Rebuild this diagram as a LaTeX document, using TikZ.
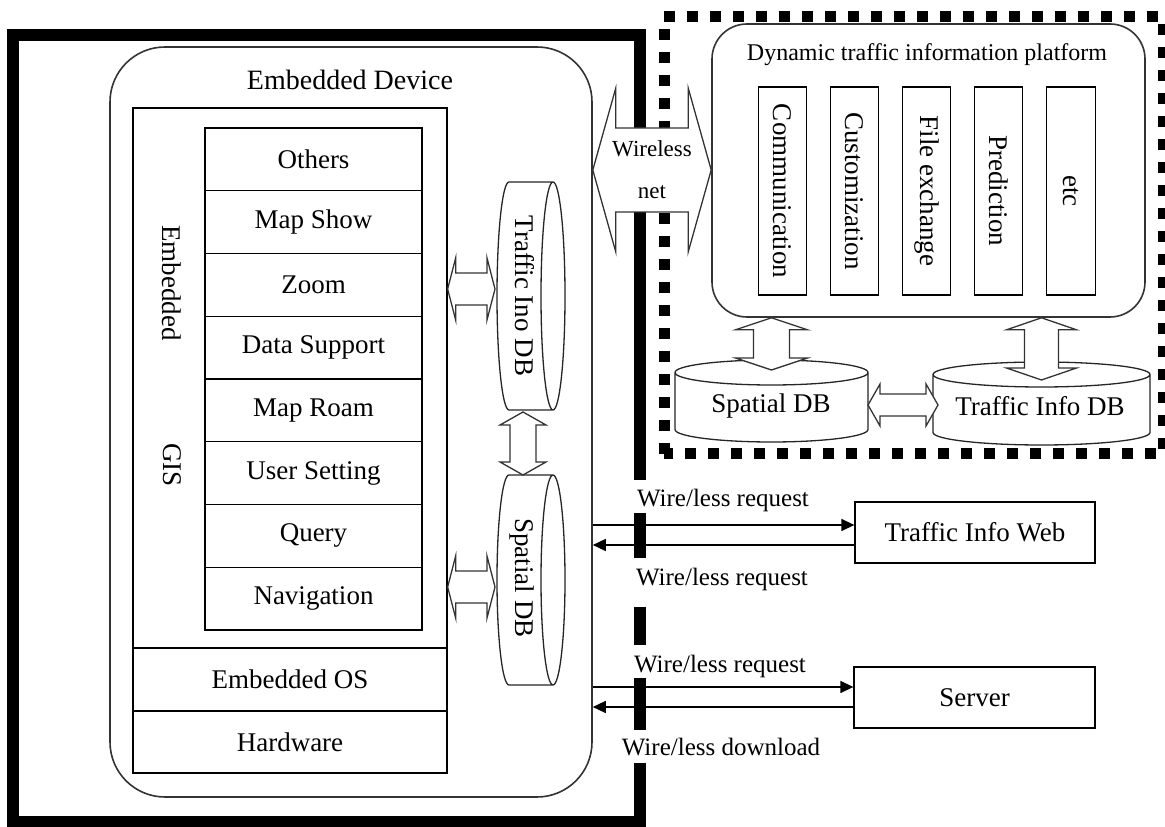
\documentclass[tikz,border=0pt]{standalone}
\usepackage{fontspec}
\setmainfont{Liberation Serif}
\usetikzlibrary{calc,arrows.meta}
% horizontal double block arrow: from #1 to #2 (y of #1), shaft half #3, head half #4, head length #5
\newcommand\hdbl[5]{\draw[blk] let \p1=(#1), \p2=(#2) in (\x1,\y1) -- (\x1+#5,\y1+#4) -- (\x1+#5,\y1+#3) -- (\x2-#5,\y1+#3) -- (\x2-#5,\y1+#4) -- (\x2,\y1) -- (\x2-#5,\y1-#4) -- (\x2-#5,\y1-#3) -- (\x1+#5,\y1-#3) -- (\x1+#5,\y1-#4) -- cycle;}
% vertical double block arrow: from #1 (top) to #2 (bottom), x of #1
\newcommand\vdbl[5]{\draw[blk] let \p1=(#1), \p2=(#2) in (\x1,\y1) -- (\x1+#4,\y1-#5) -- (\x1+#3,\y1-#5) -- (\x1+#3,\y2+#5) -- (\x1+#4,\y2+#5) -- (\x1,\y2) -- (\x1-#4,\y2+#5) -- (\x1-#3,\y2+#5) -- (\x1-#3,\y1-#5) -- (\x1-#4,\y1-#5) -- cycle;}
% cylinder lying on its side, full ellipse on the right
\newcommand\cylH[2]{\draw[cyl] let \p1=(#1.south west), \p2=(#1.north east), \n1={(\y2-\y1)/2} in
  (\x1+#2,\y2) -- (\x2-#2,\y2)
  (\x1+#2,\y1) -- (\x2-#2,\y1)
  (\x2-#2,\y1+\n1) ellipse [x radius=#2, y radius=\n1]
  (\x1+#2,\y2) arc [start angle=90, end angle=270, x radius=#2, y radius=\n1];}
% upright cylinder, full ellipse on top
\newcommand\cylV[2]{\draw[cyl] let \p1=(#1.south west), \p2=(#1.north east), \n1={(\x2-\x1)/2} in
  (\x1,\y2-#2) -- (\x1,\y1+#2)
  (\x2,\y2-#2) -- (\x2,\y1+#2)
  (\x1+\n1,\y2-#2) ellipse [x radius=\n1, y radius=#2]
  (\x1,\y1+#2) arc [start angle=180, end angle=360, x radius=\n1, y radius=#2];}
\tikzset{
 boxn/.style={draw, line width=1.3pt, inner sep=0pt, font=\fontsize{27}{30}\selectfont},
 rbox/.style={draw=black!80, line width=1.6pt, inner sep=0pt},
 lbl/.style={inner sep=0pt, font=\fontsize{27}{30}\selectfont},
 slbl/.style={inner sep=0pt, font=\fontsize{25}{28}\selectfont, anchor=base},
 cyl/.style={draw=black!85, line width=1.3pt},
 blk/.style={draw=black!80, line width=1.3pt, fill=white, line join=miter},
 req/.style={line width=1.4pt, -{Triangle[length=13pt,width=12pt]}},
 hole/.style={draw=none, inner sep=0pt, outer sep=0pt, rectangle},
 frame/.style={line width=12pt},
 dframe/.style={line width=11pt, dash pattern=on 11pt off 12pt},
}
\begin{document}
\begin{tikzpicture}[x=1pt,y=1pt]
\useasboundingbox (0,0) rectangle (1165,827);
\clip (0,0) rectangle (1165,827);
\fill[white] (0,0) rectangle (1165,827);
% frames
\draw[frame, line join=miter] (640,64) -- (640,5) -- (13,5) -- (13,792) -- (640,792) -- (640,347);
\draw[dframe] (664,373) rectangle (1163,810);
% embedded device
\node[rbox, rounded corners=55pt, minimum width=482pt, minimum height=750pt] (dev) at (351,405) {};
\node[lbl, font=\fontsize{28}{30}\selectfont] (devt) at (350,747) {Embedded Device};
\node[boxn, minimum width=314pt, minimum height=540pt] (gis) at (290,449) {};
\node[lbl, rotate=-90] (gis1) at (172,544) {Embedded};
\node[lbl, rotate=-90] (gis2) at (172,362) {GIS};
\node[boxn, minimum width=217pt, minimum height=62.75pt] (r1) at (313.5,667.6) {Others};
\node[boxn, minimum width=217pt, minimum height=62.75pt] (r2) at (313.5,604.9) {Map Show};
\node[boxn, minimum width=217pt, minimum height=62.75pt] (r3) at (313.5,542.1) {Zoom};
\node[boxn, minimum width=217pt, minimum height=62.75pt] (r4) at (313.5,479.4) {Data Support};
\node[boxn, minimum width=217pt, minimum height=62.75pt] (r5) at (313.5,416.6) {Map Roam};
\node[boxn, minimum width=217pt, minimum height=62.75pt] (r6) at (313.5,353.9) {User Setting};
\node[boxn, minimum width=217pt, minimum height=62.75pt] (r7) at (313.5,291.1) {Query};
\node[boxn, minimum width=217pt, minimum height=62.75pt] (r8) at (313.5,228.4) {Navigation};
\node[boxn, minimum width=314pt, minimum height=63pt] (os) at (290,147.5) {Embedded OS};
\node[boxn, minimum width=314pt, minimum height=62pt] (hw) at (290,85) {Hardware};
% device databases
\node[hole, minimum width=68pt, minimum height=228pt] (tdb) at (531,531) {};
\cylH{tdb}{12pt}
\node[lbl, rotate=-90] (tdbt) at ([xshift=-6pt]tdb.center) {Traffic Ino DB};
\node[hole, minimum width=68pt, minimum height=210pt] (sdb) at (531,247) {};
\cylH{sdb}{12pt}
\node[lbl, rotate=-90] (sdbt) at ([xshift=-9pt,yshift=2pt]sdb.center) {Spatial DB};
\hdbl{$(gis.east |- tdb.center)+(0,7)$}{$(tdb.west)+(-2,0)$}{16pt}{31pt}{8pt}
\hdbl{$(gis.east |- sdb.center)+(0,-7)$}{$(sdb.west)+(-2,0)$}{16pt}{31pt}{8pt}
\vdbl{$(tdb.south)+(-8,-2)$}{sdb.north}{13pt}{23pt}{13pt}
% platform
\node[rbox, rounded corners=35pt, minimum width=433pt, minimum height=293pt] (plat) at (928.5,656.5) {};
\node[lbl, font=\fontsize{24}{28}\selectfont] (platt) at (927,772) {Dynamic traffic information platform};
\node[boxn, rotate=-90, minimum width=208pt, minimum height=48.5pt] (c1) at (782.5,636) {Communication};
\node[boxn, rotate=-90, minimum width=208pt, minimum height=48.5pt] (c2) at (854.5,636) {Customization};
\node[boxn, rotate=-90, minimum width=208pt, minimum height=48.5pt] (c3) at (926.5,636) {File exchange};
\node[boxn, rotate=-90, minimum width=208pt, minimum height=48.5pt] (c4) at (998.5,636) {Prediction};
\node[boxn, rotate=-90, minimum width=208pt, minimum height=48.5pt] (c5) at (1071,636) {etc};
% platform databases
\node[hole, minimum width=193pt, minimum height=82pt] (sdb2) at (771.5,426) {};
\cylV{sdb2}{12.5pt}
\node[lbl] (sdb2t) at (771,421) {Spatial DB};
\node[hole, minimum width=217pt, minimum height=83pt] (tdb2) at (1041.5,423.5) {};
\cylV{tdb2}{12.5pt}
\node[lbl] (tdb2t) at (1040,421) {Traffic Info DB};
\vdbl{plat.south -| sdb2.center}{$(sdb2.north)+(0,-10)$}{18pt}{36pt}{12pt}
\vdbl{plat.south -| tdb2.center}{$(tdb2.north)+(0,-18)$}{17pt}{35pt}{12pt}
\hdbl{$(sdb2.east)+(0,-4)$}{$(tdb2.west)+(5,0)$}{11pt}{21pt}{12pt}
% wireless link
\coordinate (wlc) at (652,657);
\hdbl{dev.east |- wlc}{plat.west |- wlc}{42pt}{82pt}{23pt}
\node[lbl, font=\fontsize{23}{42}\selectfont, align=center] (wl) at (wlc) {Wireless\\net};
% web and server
\node[boxn, minimum width=240pt, minimum height=61pt] (web) at (975,294.5) {Traffic Info Web};
\node[boxn, minimum width=241pt, minimum height=61pt] (srv) at (974.5,129.5) {Server};
\draw[req] ($(dev.east |- web.west)+(0,7.5)$) -- ($(web.west)+(0,7.5)$);
\draw[req] ($(web.west)+(0,-12.5)$) -- ($(dev.east |- web.west)+(0,-12.5)$);
\draw[req] ($(dev.east |- srv.west)+(0,10.5)$) -- ($(srv.west)+(0,10.5)$);
\draw[req] ($(srv.west)+(0,-9.5)$) -- ($(dev.east |- srv.west)+(0,-9.5)$);
\node[slbl] (l1) at (723,320) {Wire/less request};
\node[slbl] (l2) at (722,241) {Wire/less request};
\node[slbl] (l3) at (720,154) {Wire/less request};
\node[slbl] (l4) at (721,71) {Wire/less download};
% lower dashes of the thick frame
\draw[frame] (640,314) -- (640,269) (640,220) -- (640,182) (640,149) -- (640,97);
\end{tikzpicture}
\end{document}
